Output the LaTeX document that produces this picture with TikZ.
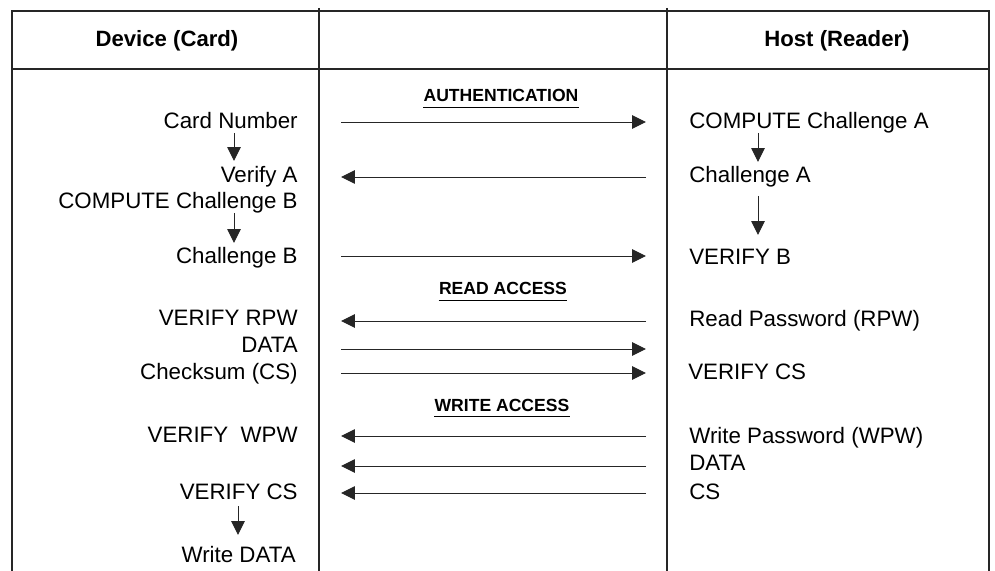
\documentclass[tikz,border=0pt]{standalone}
\usepackage{fontspec}
\setmainfont{Liberation Sans}
\usetikzlibrary{arrows.meta}

\tikzset{
  frame/.style={line width=0.7pt, black!85},
  arr/.style={-{Triangle[length=0.28cm,width=0.27cm]}, line width=0.55pt, black!85},
  devtxt/.style={anchor=base east, inner sep=0pt, font=\fontsize{12.7}{15}\selectfont},
  hosttxt/.style={anchor=base west, inner sep=0pt, font=\fontsize{12.7}{15}\selectfont},
  headtxt/.style={anchor=base, inner sep=0pt, font=\bfseries\fontsize{12.6}{15}\selectfont},
  phase/.style={anchor=base, inner xsep=0pt, inner ysep=0.1cm, text depth=0pt,
    font=\bfseries\fontsize{10}{12}\selectfont}
}

\begin{document}
\begin{tikzpicture}[x=0.02cm, y=-0.02cm]

\useasboundingbox (0,0) rectangle (995,571);

% table frame
\draw[frame] (12,571) -- (12,11) -- (989,11) -- (989,571);
\draw[frame] (12,69) -- (989,69);
\draw[frame] (319,8) -- (319,571);
\draw[frame] (667,8) -- (667,571);

% column heads
\node[headtxt] (dev) at (167,47) {Device (Card)};
\node[headtxt] (host) at (837,47) {Host (Reader)};

% phases
\node[phase] (auth) at (501,102) {AUTHENTICATION};
\node[phase] (rdacc) at (503,295) {READ ACCESS};
\node[phase] (wracc) at (502,411) {WRITE ACCESS};
\foreach \p in {auth,rdacc,wracc}
  \draw[line width=0.55pt] (\p.south west) -- (\p.south east);

% device side
\node[devtxt] (cardnum) at (298,129) {Card Number};
\node[devtxt] (verifya) at (298,183) {Verify A};
\node[devtxt] (compb)   at (298,209) {COMPUTE Challenge B};
\node[devtxt] (challb)  at (298,263) {Challenge B};
\node[devtxt] (vrpw)    at (298,325) {VERIFY RPW};
\node[devtxt] (ddata)   at (298,352) {DATA};
\node[devtxt] (cksum)   at (298,379) {Checksum (CS)};
\node[devtxt] (vwpw)    at (298,442) {VERIFY\ \ WPW};
\node[devtxt] (vcs)     at (298,499) {VERIFY CS};
\node[devtxt] (wdata)   at (296,562) {Write DATA};

% host side
\node[hosttxt] (compa)  at (689,129) {COMPUTE Challenge A};
\node[hosttxt] (challa) at (689,183) {Challenge A};
\node[hosttxt] (vb)     at (689,264) {VERIFY B};
\node[hosttxt] (rpw)    at (689,326) {Read Password (RPW)};
\node[hosttxt] (hvcs)   at (688,379) {VERIFY CS};
\node[hosttxt] (wpw)    at (689,443) {Write Password (WPW)};
\node[hosttxt] (hdata)  at (689,470) {DATA};
\node[hosttxt] (hcs)    at (689,499) {CS};

% message ends
\foreach \y/\m in {122/a,177/b,256/c,321/d,349/e,373/f,436/g,466/h,493/i} {
  \coordinate (L\m) at (341,\y);
  \coordinate (R\m) at (646,\y);
}

% messages
\draw[arr] (La) -- (Ra);
\draw[arr] (Rb) -- (Lb);
\draw[arr] (Lc) -- (Rc);
\draw[arr] (Rd) -- (Ld);
\draw[arr] (Le) -- (Re);
\draw[arr] (Lf) -- (Rf);
\draw[arr] (Rg) -- (Lg);
\draw[arr] (Rh) -- (Lh);
\draw[arr] (Ri) -- (Li);

% local steps
\coordinate (d1t) at (234,133); \coordinate (d1b) at (234,161);
\coordinate (d2t) at (234,213); \coordinate (d2b) at (234,243);
\coordinate (d3t) at (238,506); \coordinate (d3b) at (238,535);
\coordinate (h1t) at (758,133); \coordinate (h1b) at (758,162);
\coordinate (h2t) at (758,196); \coordinate (h2b) at (758,235);
\draw[arr] (d1t) -- (d1b);
\draw[arr] (d2t) -- (d2b);
\draw[arr] (d3t) -- (d3b);
\draw[arr] (h1t) -- (h1b);
\draw[arr] (h2t) -- (h2b);

\end{tikzpicture}
\end{document}
